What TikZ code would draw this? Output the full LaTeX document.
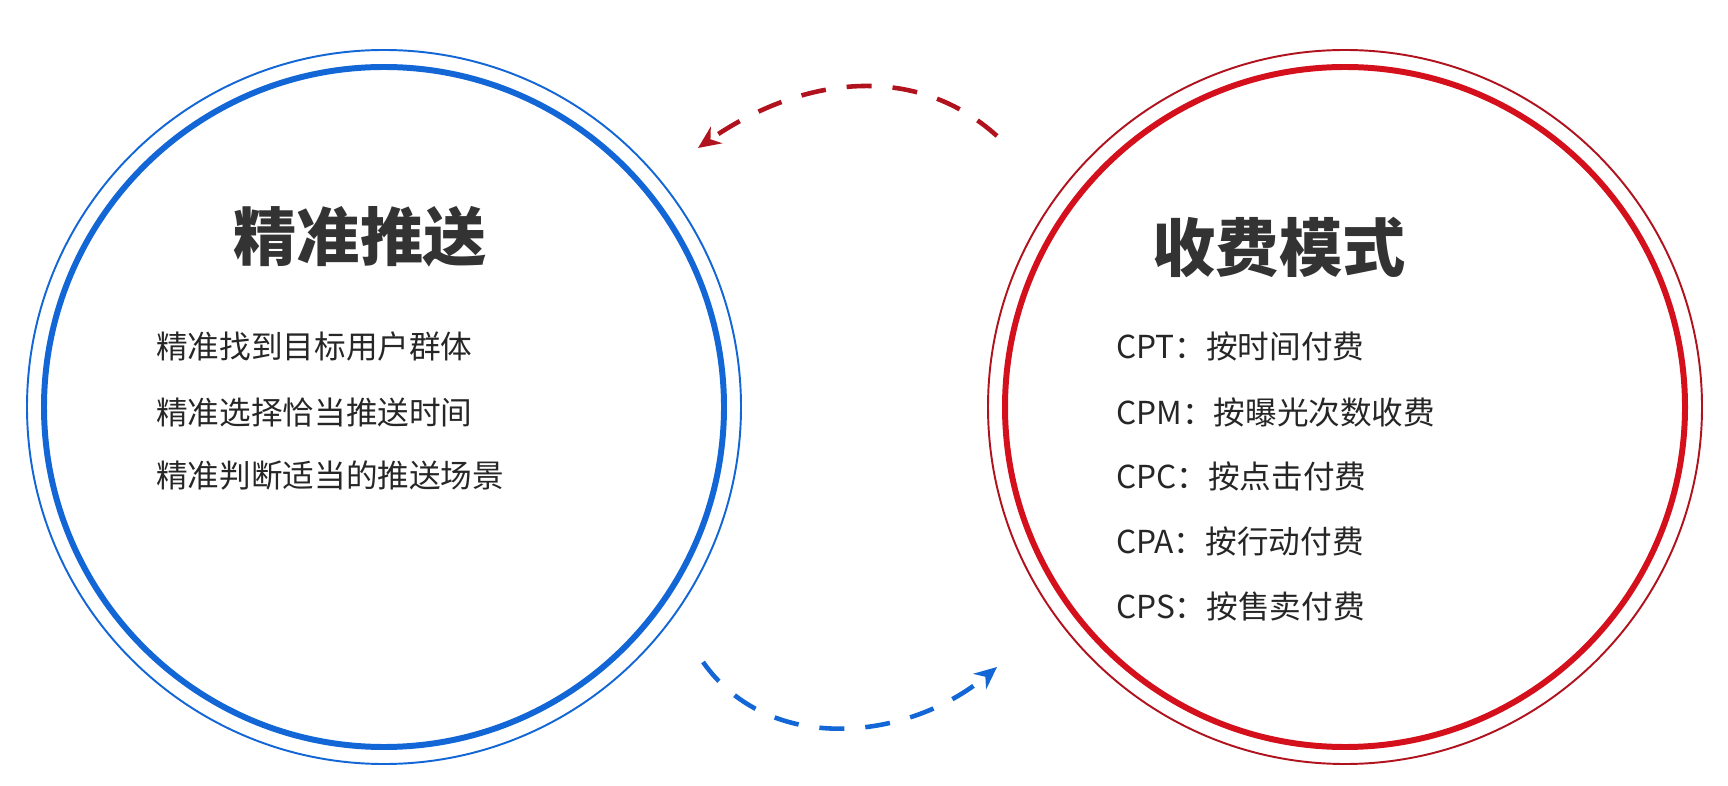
\documentclass[tikz,border=0pt]{standalone}
\usepackage{fontspec}
\setmainfont{Noto Sans CJK SC}
\usetikzlibrary{arrows.meta}
\definecolor{pushblue}{HTML}{1266D6}
\definecolor{feered}{HTML}{D4101C}
\definecolor{feedark}{HTML}{B0121E}
\tikzset{
  ring/.style={circle,draw,inner sep=0pt},
  title/.style={font=\fontsize{36}{40}\selectfont\bfseries,text=black!80},
  item/.style={anchor=west,font=\fontsize{18}{21}\selectfont,text=black!85},
  swap/.style={dashed,line width=2.6pt,dash pattern=on 0.5cm off 0.42cm,-{Stealth[length=0.45cm,width=0.4cm]}}
}
\begin{document}
\begin{tikzpicture}
  \useasboundingbox (0,0) rectangle (34.56,15.7);

  % Left circle
  \node[ring,draw=pushblue,line width=1.1pt,minimum size=14.28cm] (pushout) at (7.68,7.56) {};
  \node[ring,draw=pushblue,line width=3.4pt,minimum size=13.6cm] (pushin) at (7.68,7.56) {};
  \node[title] (pushtitle) at (7.2,10.96) {精准推送};
  \node[item] (push1) at (3.0,8.78) {精准找到目标用户群体};
  \node[item] (push2) at (3.0,7.46) {精准选择恰当推送时间};
  \node[item] (push3) at (3.0,6.18) {精准判断适当的推送场景};

  % Right circle
  \node[ring,draw=feedark,line width=1.1pt,minimum size=14.28cm] (feeout) at (26.9,7.56) {};
  \node[ring,draw=feered,line width=3.4pt,minimum size=13.6cm] (feein) at (26.9,7.56) {};
  \node[title] (feetitle) at (25.58,10.76) {收费模式};
  \node[item] (fee1) at (22.2,8.78) {CPT：按时间付费};
  \node[item] (fee2) at (22.2,7.46) {CPM：按曝光次数收费};
  \node[item] (fee3) at (22.2,6.18) {CPC：按点击付费};
  \node[item] (fee4) at (22.2,4.88) {CPA：按行动付费};
  \node[item] (fee5) at (22.2,3.58) {CPS：按售卖付费};

  % Arrows
  \coordinate (redstart) at (19.94,12.98);
  \coordinate (redend) at (13.96,12.74);
  \coordinate (bluestart) at (14.06,2.46);
  \coordinate (blueend) at (19.94,2.36);
  \draw[swap,feedark] (redstart) to[out=138,in=35] (redend);
  \draw[swap,pushblue] (bluestart) to[out=-55,in=-140] (blueend);
\end{tikzpicture}
\end{document}
